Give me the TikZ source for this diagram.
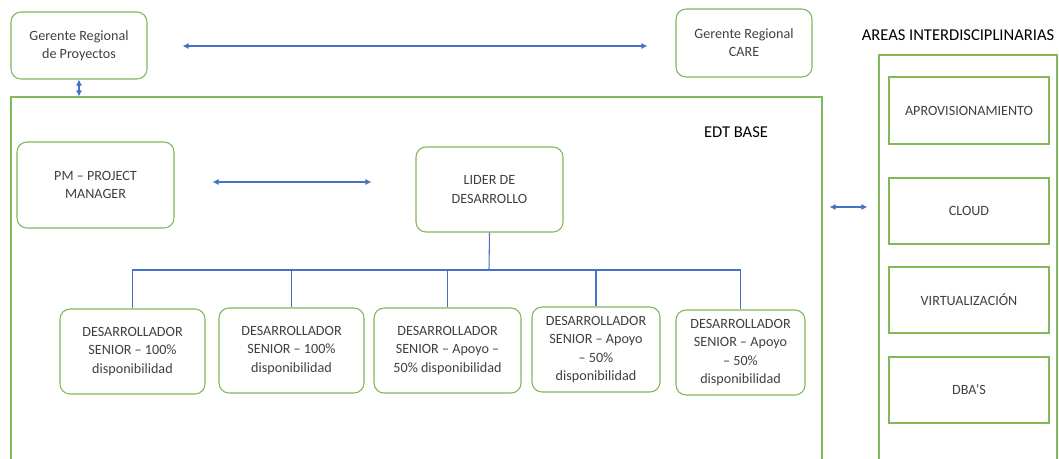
\documentclass[tikz,border=0pt]{standalone}
\usepackage{fontspec}
\setmainfont{Carlito}
\usetikzlibrary{arrows.meta,fit}
\definecolor{boxgreen}{RGB}{128,184,90}
\definecolor{arrblue}{RGB}{68,114,196}
\definecolor{txtgray}{RGB}{64,64,64}
\tikzset{
  txt/.style={align=center, text=txtgray, inner sep=0pt, font=\fontsize{10.6}{13.7}\selectfont},
  base/.style={draw=boxgreen, line width=0.8pt, inner sep=0pt},
  rbox/.style={base, rounded corners=7.5pt},
  sbox/.style={base},
  frame/.style={draw=boxgreen, line width=0.8pt, inner sep=0pt},
  arr/.style={draw=arrblue, line width=0.8pt, {Latex[length=4.5pt,width=4.5pt]}-{Latex[length=4.5pt,width=4.5pt]}},
  tree/.style={draw=arrblue, line width=0.8pt},
  heading/.style={text=black, font=\fontsize{12.4}{14}\selectfont, inner sep=0pt}
}
\begin{document}
\begin{tikzpicture}[x=0.75pt,y=-0.75pt]
\useasboundingbox (0,0) rectangle (1059,458);
\clip (0,0) rectangle (1059,458);
\fill[white] (0,0) rectangle (1059,458);

% top managers
\node[rbox, fit={(11,12) (147,79)}, label={[txt]center:Gerente Regional\\de Proyectos}] (grp) {};
\node[rbox, fit={(676,9) (812,77)}, label={[txt]center:Gerente Regional\\CARE}] (care) {};

% EDT base frame
\node[frame, fit={(11,97) (822,480)}] (edt) {};
\node[heading] (edtlbl) at (736,132) {EDT BASE};

\node[rbox, fit={(17,142) (174,228)}, label={[txt]center:PM -- PROJECT\\MANAGER}] (pm) {};
\node[rbox, fit={(416,147) (563,232)}, label={[txt]center:LIDER DE\\DESARROLLO}] (lider) {};

\node[rbox, fit={(60,309) (205,394)}, label={[txt]center:DESARROLLADOR\\SENIOR -- 100\%\\disponibilidad}] (d1) {};
\node[rbox, fit={(219,308) (364,393)}, label={[txt]center:DESARROLLADOR\\SENIOR -- 100\%\\disponibilidad}] (d2) {};
\node[rbox, fit={(374,308) (521,393)}, label={[txt]center:DESARROLLADOR\\SENIOR -- Apoyo --\\50\% disponibilidad}] (d3) {};
\node[rbox, fit={(532,307) (660,392)}, label={[txt]center:DESARROLLADOR\\SENIOR -- Apoyo\\-- 50\%\\disponibilidad}] (d4) {};
\node[rbox, fit={(676,310) (805,395)}, label={[txt]center:DESARROLLADOR\\SENIOR -- Apoyo\\-- 50\%\\disponibilidad}] (d5) {};

% areas interdisciplinarias
\node[heading] (arealbl) at (958,35) {AREAS INTERDISCIPLINARIAS};
\node[frame, fit={(879,55) (1057,480)}] (areas) {};
\node[sbox, fit={(889,77) (1049,144)}, label={[txt]center:APROVISIONAMIENTO}] (aprov) {};
\node[sbox, fit={(889,178) (1049,244)}, label={[txt]center:CLOUD}] (cloud) {};
\node[sbox, fit={(889,267) (1049,333)}, label={[txt]center:VIRTUALIZACIÓN}] (virt) {};
\node[sbox, fit={(889,357) (1049,423)}, label={[txt]center:DBA’S}] (dba) {};

% connectors
\draw[arr, shorten <=26.25pt, shorten >=21pt] (grp.east |- 0,46) -- (care.west |- 0,46);
\draw[arr] (grp.south) -- (grp.south |- edt.north);
\draw[arr, shorten <=28.5pt, shorten >=33pt] (pm.east |- 0,182) -- (lider.west |- 0,182);
\draw[arr, shorten <=5.25pt, shorten >=8.25pt] (edt.east |- 0,207) -- (areas.west |- 0,207);

\coordinate (bus) at (489,270);
\draw[tree] (lider.south) -- (bus);
\draw[tree] (d1.north) |- (bus);
\draw[tree] (d2.north) |- (bus);
\draw[tree] (d3.north) |- (bus);
\draw[tree] (d4.north) |- (bus);
\draw[tree] (d5.north) |- (bus);
\end{tikzpicture}
\end{document}
